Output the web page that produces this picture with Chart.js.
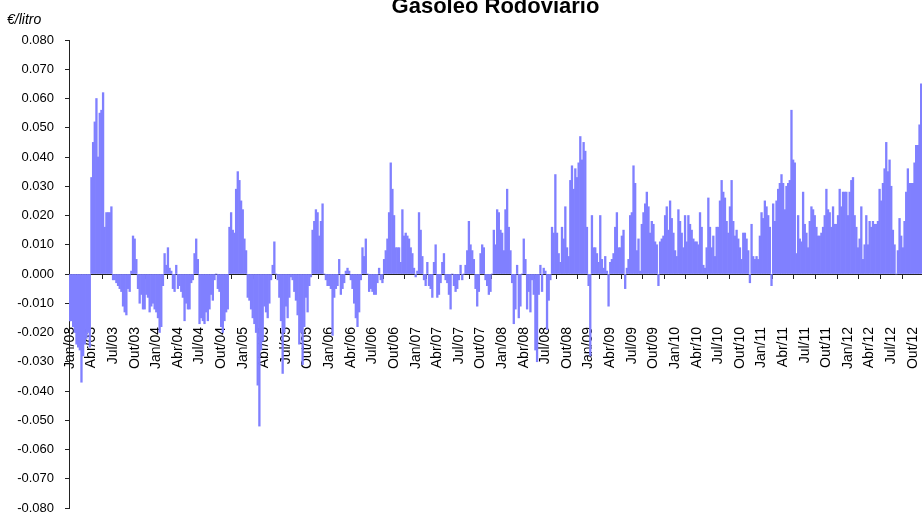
<!DOCTYPE html>
<html>
<head>
<meta charset="utf-8">
<script src="https://cdn.jsdelivr.net/npm/chart.js@4.4.1/dist/chart.umd.min.js"></script>
<style>
  html, body { margin: 0; padding: 0; background: #fff; overflow: hidden; }
  #wrap { width: 922px; height: 516px; }
</style>
</head>
<body>
<div id="wrap"><canvas id="myChart"></canvas></div>
<script>
// weekly values, 13 per quarter (Jan, Abr, Jul, Out)
const v2003 = [-0.016, -0.016, -0.018, -0.020, -0.024, -0.025, -0.026, -0.037, -0.028, -0.024, -0.022, -0.020, -0.025,
  0.033, 0.045, 0.052, 0.060, 0.040, 0.055, 0.056, 0.062, 0.016, 0.021, 0.021, 0.021, 0.023,
  -0.002, -0.002, -0.003, -0.004, -0.005, -0.006, -0.011, -0.013, -0.014, -0.005, -0.006, 0.001, 0.013,
  0.012, 0.005, -0.005, -0.010, -0.007, -0.012, -0.012, -0.007, -0.008, -0.013, -0.011, -0.010, -0.012];
const v2004 = [-0.013, -0.015, -0.020, -0.018, -0.004, 0.007, 0.003, 0.009, 0.002, 0.001, -0.005, -0.006, 0.003,
  -0.005, -0.004, -0.006, -0.008, -0.016, -0.010, -0.012, -0.012, -0.003, -0.002, 0.007, 0.012, 0.005,
  -0.017, -0.015, -0.016, -0.017, -0.013, -0.016, -0.012, -0.007, -0.009, -0.002, 0.000, -0.005, -0.006,
  -0.018, -0.020, -0.016, -0.013, -0.012, 0.016, 0.021, 0.015, 0.014, 0.029, 0.035, 0.032, 0.025];
const v2005 = [0.022, 0.012, 0.008, -0.008, -0.009, -0.012, -0.015, -0.017, -0.020, -0.038, -0.052, -0.026, -0.023,
  -0.011, -0.013, -0.015, -0.010, -0.002, 0.003, 0.011, 0.000, -0.002, -0.008, -0.016, -0.034, -0.020,
  -0.011, -0.015, -0.008, -0.001, -0.002, -0.006, -0.009, -0.014, -0.024, -0.020, -0.031, -0.018, -0.008,
  -0.013, -0.004, -0.001, 0.015, 0.018, 0.022, 0.021, 0.013, 0.018, 0.024, 0.000, -0.002, -0.004];
const v2006 = [-0.004, -0.005, -0.021, -0.008, -0.005, -0.004, 0.005, -0.007, -0.005, -0.003, 0.001, 0.002, 0.001,
  -0.002, -0.005, -0.010, -0.015, -0.018, -0.013, -0.002, 0.009, 0.006, 0.012, 0.000, -0.006, -0.005,
  -0.006, -0.007, -0.007, -0.003, 0.002, -0.002, -0.003, 0.005, 0.008, 0.012, 0.021, 0.038, 0.029,
  0.020, 0.009, 0.009, 0.009, 0.004, 0.022, 0.013, 0.014, 0.013, 0.012, 0.009, 0.007, 0.002];
const v2007 = [-0.001, 0.001, 0.021, 0.015, 0.006, -0.002, -0.004, 0.004, -0.004, -0.005, -0.008, 0.004, 0.010,
  -0.008, -0.007, -0.003, 0.004, 0.007, -0.002, -0.003, -0.007, -0.012, 0.000, -0.004, -0.006, -0.005,
  -0.002, 0.003, -0.002, 0.000, 0.003, 0.008, 0.018, 0.010, 0.008, 0.005, -0.005, -0.011, -0.006,
  0.007, 0.010, 0.009, -0.002, -0.004, -0.007, -0.006, 0.000, 0.015, 0.010, 0.022, 0.021, 0.015];
const v2008 = [0.014, 0.008, 0.022, 0.029, 0.016, 0.008, -0.003, -0.017, -0.012, 0.003, -0.015, -0.011, 0.000,
  0.012, 0.005, -0.012, -0.006, -0.013, -0.002, -0.007, -0.026, -0.030, -0.007, 0.003, -0.006, 0.002,
  0.001, -0.019, -0.009, -0.002, 0.016, 0.014, 0.034, 0.014, 0.007, 0.004, 0.016, 0.012, 0.023,
  0.009, 0.006, 0.032, 0.037, 0.029, 0.036, 0.033, 0.038, 0.047, 0.039, 0.045, 0.042, 0.016];
const v2009 = [-0.004, -0.028, 0.020, 0.009, 0.009, 0.007, 0.004, 0.020, 0.005, 0.002, 0.006, 0.001, -0.011,
  0.004, 0.005, 0.007, 0.016, 0.021, 0.009, 0.009, 0.013, 0.015, -0.005, 0.002, 0.005, 0.020,
  0.021, 0.037, 0.031, 0.008, 0.012, 0.001, 0.017, 0.021, 0.024, 0.028, 0.023, 0.014, 0.018,
  0.017, 0.011, 0.010, -0.004, 0.011, 0.012, 0.013, 0.020, 0.023, 0.015, 0.025, 0.019, 0.014];
const v2010 = [0.008, 0.006, 0.022, 0.018, 0.014, 0.009, 0.020, 0.011, 0.020, 0.017, 0.015, 0.012, 0.011,
  0.011, 0.010, 0.021, 0.016, 0.003, 0.002, 0.009, 0.026, 0.016, 0.009, 0.013, 0.006, 0.016,
  0.016, 0.025, 0.032, 0.028, 0.026, 0.018, 0.014, 0.023, 0.032, 0.018, 0.013, 0.015, 0.012,
  0.009, 0.005, 0.014, 0.014, 0.012, 0.008, -0.003, 0.017, 0.006, 0.005, 0.006, 0.005, 0.013];
const v2011 = [0.021, 0.019, 0.025, 0.023, 0.020, 0.016, -0.004, 0.024, 0.018, 0.025, 0.029, 0.031, 0.034,
  0.031, 0.022, 0.030, 0.031, 0.032, 0.056, 0.039, 0.038, 0.007, 0.020, 0.012, 0.011, 0.028,
  0.017, 0.014, 0.009, 0.018, 0.023, 0.022, 0.020, 0.016, 0.013, 0.013, 0.014, 0.016, 0.020,
  0.029, 0.022, 0.021, 0.016, 0.023, 0.017, 0.017, 0.020, 0.029, 0.023, 0.028, 0.028, 0.028];
const v2012 = [0.020, 0.028, 0.032, 0.033, 0.020, 0.016, 0.009, 0.012, 0.023, 0.005, 0.010, 0.020, 0.010,
  0.018, 0.016, 0.018, 0.017, 0.017, 0.018, 0.029, 0.025, 0.031, 0.036, 0.045, 0.035, 0.039,
  0.030, 0.015, 0.010, 0.000, 0.008, 0.019, 0.013, 0.009, 0.018, 0.028, 0.036, 0.031, 0.031,
  0.031, 0.038, 0.044, 0.044, 0.051, 0.065];

const meses = ['Jan', 'Abr', 'Jul', 'Out'];
const anos = ['03', '04', '05', '06', '07', '08', '09', '10', '11', '12'];
const semanasPorTrimestre = 13;

let valores = [].concat(v2003, v2004, v2005, v2006, v2007, v2008, v2009, v2010, v2011, v2012);
let trimestres = [];
anos.forEach(a => meses.forEach(m => trimestres.push(m + '/' + a)));
let labels = valores.map((v, i) => (i % semanasPorTrimestre === 0 ? trimestres[i / semanasPorTrimestre] : ''));

const unidade = {
    id: 'unidade',
    afterDraw(chart) {
        let ctx = chart.ctx;
        ctx.save();
        ctx.font = 'italic 14px "Liberation Sans", Arial, sans-serif';
        ctx.fillStyle = '#000';
        ctx.textAlign = 'left';
        ctx.textBaseline = 'alphabetic';
        ctx.fillText('€/litro', 7, 24);
        ctx.restore();
    }
};

var chart = new Chart(document.getElementById('myChart'), {
    type: 'bar',
    data: {
        labels: labels,
        datasets: [{
            data: valores,
            backgroundColor: '#8080ff',
            borderWidth: 0,
            barPercentage: 1,
            categoryPercentage: 1
        }]
    },
    options: {
        responsive: true,
        maintainAspectRatio: false,
        animation: false,
        layout: { padding: { left: 7, right: 0, top: -4, bottom: 0 } },
        plugins: {
            legend: { display: false },
            tooltip: { enabled: false },
            title: {
                display: true,
                text: 'Gasoleo Rodoviario',
                fullSize: false,
                color: '#000',
                font: { family: '"Liberation Sans", Arial, sans-serif', size: 22, weight: 'bold', lineHeight: 1 },
                padding: { top: 0, bottom: 22 }
            }
        },
        scales: {
            x: {
                type: 'category',
                position: { y: 0 },
                offset: true,
                grid: { display: true, drawOnChartArea: false, drawTicks: true, tickLength: 4, color: '#222', offset: true },
                border: { display: true, color: '#222', width: 1 },
                ticks: {
                    autoSkip: false,
                    minRotation: 90,
                    maxRotation: 90,
                    padding: 49,
                    color: '#000',
                    font: { family: '"Liberation Sans", Arial, sans-serif', size: 14 },
                    callback: (v, i) => labels[i] || null
                },
                afterFit: (s) => { s.height = 0; s.paddingLeft = 0; s.paddingRight = 0; }
            },
            y: {
                min: -0.08,
                max: 0.08,
                grid: { display: true, drawOnChartArea: false, drawTicks: true, tickLength: 4, color: '#222' },
                border: { display: true, color: '#222', width: 1 },
                ticks: {
                    stepSize: 0.01,
                    padding: 11,
                    color: '#000',
                    font: { family: '"Liberation Sans", Arial, sans-serif', size: 13 },
                    callback: (v) => (Math.abs(v) < 1e-9 ? 0 : v).toFixed(3)
                },
                afterFit: (s) => { s.width = 62; s.paddingBottom = 8; }
            }
        }
    },
    plugins: [unidade]
});
</script>
</body>
</html>
